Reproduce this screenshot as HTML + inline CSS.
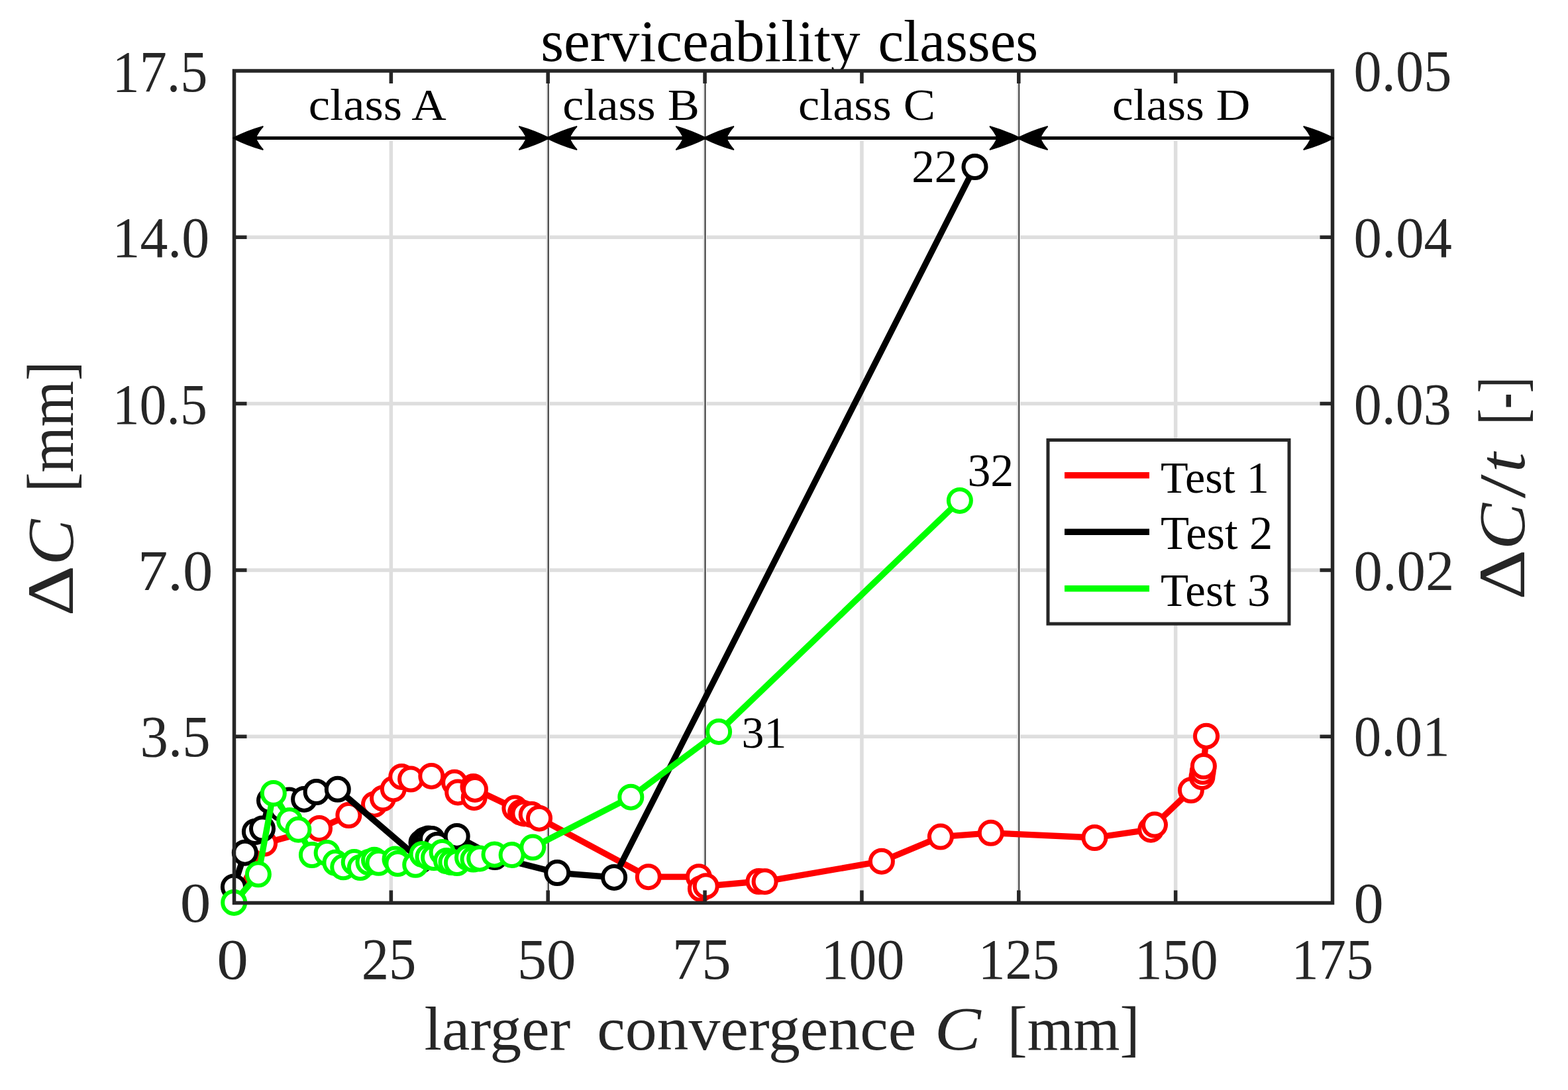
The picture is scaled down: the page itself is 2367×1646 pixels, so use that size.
<!DOCTYPE html>
<html><head><meta charset="utf-8"><title>serviceability classes</title>
<style>html,body{margin:0;padding:0;background:#fff;overflow:hidden}svg{display:block}</style>
</head><body>
<svg width="2367" height="1646" viewBox="0 0 2367 1646" font-family='"Liberation Serif", "DejaVu Serif", serif'>
<rect width="2367" height="1646" fill="#fff"/>
<text transform="translate(816.22,91.90) scale(0.8955,0.8841)" font-size="100" fill="#000" >serviceability</text>
<text transform="translate(1325.42,91.90) scale(0.8707,0.8841)" font-size="100" fill="#000" >classes</text>
<rect x="353.5" y="107.0" width="1658.0" height="1256.5" fill="#fff"/>
<path d="M590.36,107.00V1363.50M827.21,107.00V1363.50M1064.07,107.00V1363.50M1300.93,107.00V1363.50M1537.79,107.00V1363.50M1774.64,107.00V1363.50M353.50,1112.20H2011.50M353.50,860.90H2011.50M353.50,609.60H2011.50M353.50,358.30H2011.50" stroke="#dedede" stroke-width="5.5" fill="none"/>
<rect x="586.36" y="126" width="8" height="87" fill="#fff"/>
<rect x="1296.93" y="126" width="8" height="87" fill="#fff"/>
<rect x="1770.64" y="126" width="8" height="87" fill="#fff"/>
<path d="M827.61,107.00V1363.50" stroke="#000" stroke-width="1.3"/>
<path d="M1064.47,107.00V1363.50" stroke="#000" stroke-width="1.3"/>
<path d="M1538.19,107.00V1363.50" stroke="#000" stroke-width="1.3"/>
<path d="M353.2,1362.9L399.1,1273.6L482.0,1251.0L526.4,1231.1L565.0,1214.7L578.0,1205.5L593.8,1191.4L606.3,1172.9L620.1,1176.5L651.3,1171.9L686.1,1181.8L691.2,1196.4L715.7,1204.2L714.5,1188.0L717.0,1191.9L777.4,1220.6L786.1,1226.7L791.4,1228.4L802.7,1230.1L814.0,1235.7L978.8,1324.2L1054.9,1324.2L1057.9,1342.0L1065.7,1338.2L1145.5,1331.0L1154.6,1331.2L1330.9,1300.7L1419.9,1263.6L1495.8,1257.8L1652.4,1265.0L1737.3,1252.7L1743.0,1245.6L1797.9,1193.3L1814.5,1173.0L1815.7,1165.0L1816.9,1157.0L1821.0,1111.7" stroke="#ff0000" stroke-width="9.3" fill="none" stroke-linejoin="round" stroke-linecap="round"/>
<g fill="#fff" stroke="#ff0000" stroke-width="6.0"><circle cx="399.1" cy="1273.6" r="17.0"/><circle cx="482.0" cy="1251.0" r="17.0"/><circle cx="526.4" cy="1231.1" r="17.0"/><circle cx="565.0" cy="1214.7" r="17.0"/><circle cx="578.0" cy="1205.5" r="17.0"/><circle cx="593.8" cy="1191.4" r="17.0"/><circle cx="606.3" cy="1172.9" r="17.0"/><circle cx="620.1" cy="1176.5" r="17.0"/><circle cx="651.3" cy="1171.9" r="17.0"/><circle cx="686.1" cy="1181.8" r="17.0"/><circle cx="691.2" cy="1196.4" r="17.0"/><circle cx="715.7" cy="1204.2" r="17.0"/><circle cx="714.5" cy="1188.0" r="17.0"/><circle cx="717.0" cy="1191.9" r="17.0"/><circle cx="777.4" cy="1220.6" r="17.0"/><circle cx="786.1" cy="1226.7" r="17.0"/><circle cx="791.4" cy="1228.4" r="17.0"/><circle cx="802.7" cy="1230.1" r="17.0"/><circle cx="814.0" cy="1235.7" r="17.0"/><circle cx="978.8" cy="1324.2" r="17.0"/><circle cx="1054.9" cy="1324.2" r="17.0"/><circle cx="1057.9" cy="1342.0" r="17.0"/><circle cx="1065.7" cy="1338.2" r="17.0"/><circle cx="1145.5" cy="1331.0" r="17.0"/><circle cx="1154.6" cy="1331.2" r="17.0"/><circle cx="1330.9" cy="1300.7" r="17.0"/><circle cx="1419.9" cy="1263.6" r="17.0"/><circle cx="1495.8" cy="1257.8" r="17.0"/><circle cx="1652.4" cy="1265.0" r="17.0"/><circle cx="1737.3" cy="1252.7" r="17.0"/><circle cx="1743.0" cy="1245.6" r="17.0"/><circle cx="1797.9" cy="1193.3" r="17.0"/><circle cx="1814.5" cy="1173.0" r="17.0"/><circle cx="1815.7" cy="1165.0" r="17.0"/><circle cx="1816.9" cy="1157.0" r="17.0"/><circle cx="1821.0" cy="1111.7" r="17.0"/></g>
<path d="M352.9,1339.5L369.8,1287.7L384.9,1256.0L396.0,1251.5L407.0,1209.0L425.0,1221.0L436.6,1208.4L459.1,1206.9L477.6,1196.0L509.8,1191.8L635.0,1299.0L636.5,1272.5L641.0,1268.5L646.5,1266.5L652.0,1267.0L660.0,1276.0L689.7,1262.9L747.0,1294.0L841.2,1318.1L927.1,1324.9L1471.5,252.0" stroke="#000000" stroke-width="9.3" fill="none" stroke-linejoin="round" stroke-linecap="round"/>
<g fill="#fff" stroke="#000000" stroke-width="6.0"><circle cx="352.9" cy="1339.5" r="17.0"/><circle cx="369.8" cy="1287.7" r="17.0"/><circle cx="384.9" cy="1256.0" r="17.0"/><circle cx="396.0" cy="1251.5" r="17.0"/><circle cx="407.0" cy="1209.0" r="17.0"/><circle cx="425.0" cy="1221.0" r="17.0"/><circle cx="436.6" cy="1208.4" r="17.0"/><circle cx="459.1" cy="1206.9" r="17.0"/><circle cx="477.6" cy="1196.0" r="17.0"/><circle cx="509.8" cy="1191.8" r="17.0"/><circle cx="635.0" cy="1299.0" r="17.0"/><circle cx="636.5" cy="1272.5" r="17.0"/><circle cx="641.0" cy="1268.5" r="17.0"/><circle cx="646.5" cy="1266.5" r="17.0"/><circle cx="652.0" cy="1267.0" r="17.0"/><circle cx="660.0" cy="1276.0" r="17.0"/><circle cx="689.7" cy="1262.9" r="17.0"/><circle cx="747.0" cy="1294.0" r="17.0"/><circle cx="841.2" cy="1318.1" r="17.0"/><circle cx="927.1" cy="1324.9" r="17.0"/><circle cx="1471.5" cy="252.0" r="17.0"/></g>
<path d="M353.2,1362.9L389.9,1320.3L412.8,1198.0L437.1,1239.2L450.4,1252.8L470.9,1291.0L493.6,1288.0L506.4,1302.8L518.2,1309.3L534.7,1302.1L543.9,1310.0L556.5,1302.0L565.0,1298.8L571.5,1302.8L596.5,1297.5L600.4,1304.0L627.2,1305.8L637.6,1290.0L646.5,1294.0L655.0,1295.0L667.6,1287.0L674.0,1300.0L681.5,1302.0L689.9,1303.0L706.0,1295.0L714.5,1297.5L724.2,1296.4L746.5,1290.4L772.6,1291.1L804.3,1279.6L952.3,1203.7L1085.1,1104.9L1448.9,755.9" stroke="#00ff00" stroke-width="9.3" fill="none" stroke-linejoin="round" stroke-linecap="round"/>
<g fill="#fff" stroke="#00ff00" stroke-width="6.0"><circle cx="353.2" cy="1362.9" r="17.0"/><circle cx="389.9" cy="1320.3" r="17.0"/><circle cx="412.8" cy="1198.0" r="17.0"/><circle cx="437.1" cy="1239.2" r="17.0"/><circle cx="450.4" cy="1252.8" r="17.0"/><circle cx="470.9" cy="1291.0" r="17.0"/><circle cx="493.6" cy="1288.0" r="17.0"/><circle cx="506.4" cy="1302.8" r="17.0"/><circle cx="518.2" cy="1309.3" r="17.0"/><circle cx="534.7" cy="1302.1" r="17.0"/><circle cx="543.9" cy="1310.0" r="17.0"/><circle cx="556.5" cy="1302.0" r="17.0"/><circle cx="565.0" cy="1298.8" r="17.0"/><circle cx="571.5" cy="1302.8" r="17.0"/><circle cx="596.5" cy="1297.5" r="17.0"/><circle cx="600.4" cy="1304.0" r="17.0"/><circle cx="627.2" cy="1305.8" r="17.0"/><circle cx="637.6" cy="1290.0" r="17.0"/><circle cx="646.5" cy="1294.0" r="17.0"/><circle cx="655.0" cy="1295.0" r="17.0"/><circle cx="667.6" cy="1287.0" r="17.0"/><circle cx="674.0" cy="1300.0" r="17.0"/><circle cx="681.5" cy="1302.0" r="17.0"/><circle cx="689.9" cy="1303.0" r="17.0"/><circle cx="706.0" cy="1295.0" r="17.0"/><circle cx="714.5" cy="1297.5" r="17.0"/><circle cx="724.2" cy="1296.4" r="17.0"/><circle cx="746.5" cy="1290.4" r="17.0"/><circle cx="772.6" cy="1291.1" r="17.0"/><circle cx="804.3" cy="1279.6" r="17.0"/><circle cx="952.3" cy="1203.7" r="17.0"/><circle cx="1085.1" cy="1104.9" r="17.0"/><circle cx="1448.9" cy="755.9" r="17.0"/></g>
<path d="M590.36,1363.50V1344.50M590.36,107.00V126.00M827.21,1363.50V1344.50M827.21,107.00V126.00M1064.07,1363.50V1344.50M1064.07,107.00V126.00M1300.93,1363.50V1344.50M1300.93,107.00V126.00M1537.79,1363.50V1344.50M1537.79,107.00V126.00M1774.64,1363.50V1344.50M1774.64,107.00V126.00M353.50,1112.20H372.50M2011.50,1112.20H1992.50M353.50,860.90H372.50M2011.50,860.90H1992.50M353.50,609.60H372.50M2011.50,609.60H1992.50M353.50,358.30H372.50M2011.50,358.30H1992.50" stroke="#262626" stroke-width="5.5" fill="none"/>
<rect x="353.5" y="107.0" width="1658.0" height="1256.5" fill="none" stroke="#262626" stroke-width="5.5"/>
<path d="M373.5,208.5H807.2M847.2,208.5H1044.1M1084.1,208.5H1517.8M1557.8,208.5H1991.5" stroke="#000" stroke-width="5" fill="none"/>
<path d="M352.1,208.5Q374.1,197.5 396.6,191.2Q389.1,199.5 385.6,208.5Q389.1,217.5 396.6,225.8Q374.1,219.5 352.1,208.5ZM828.6,208.5Q806.6,197.5 784.1,191.2Q791.6,199.5 795.1,208.5Q791.6,217.5 784.1,225.8Q806.6,219.5 828.6,208.5ZM825.8,208.5Q847.8,197.5 870.3,191.2Q862.8,199.5 859.3,208.5Q862.8,217.5 870.3,225.8Q847.8,219.5 825.8,208.5ZM1065.5,208.5Q1043.5,197.5 1021.0,191.2Q1028.5,199.5 1032.0,208.5Q1028.5,217.5 1021.0,225.8Q1043.5,219.5 1065.5,208.5ZM1062.7,208.5Q1084.7,197.5 1107.2,191.2Q1099.7,199.5 1096.2,208.5Q1099.7,217.5 1107.2,225.8Q1084.7,219.5 1062.7,208.5ZM1539.2,208.5Q1517.2,197.5 1494.7,191.2Q1502.2,199.5 1505.7,208.5Q1502.2,217.5 1494.7,225.8Q1517.2,219.5 1539.2,208.5ZM1536.4,208.5Q1558.4,197.5 1580.9,191.2Q1573.4,199.5 1569.9,208.5Q1573.4,217.5 1580.9,225.8Q1558.4,219.5 1536.4,208.5ZM2012.9,208.5Q1990.9,197.5 1968.4,191.2Q1975.9,199.5 1979.4,208.5Q1975.9,217.5 1968.4,225.8Q1990.9,219.5 2012.9,208.5Z" fill="#000" stroke="#000" stroke-width="2.2" stroke-linejoin="round"/>
<text transform="translate(465.79,181.20) scale(0.7270,0.6696)" font-size="100" fill="#000" >class A</text>
<text transform="translate(849.31,181.20) scale(0.7217,0.6696)" font-size="100" fill="#000" >class B</text>
<text transform="translate(1205.11,181.20) scale(0.7231,0.6696)" font-size="100" fill="#000" >class C</text>
<text transform="translate(1678.94,181.20) scale(0.7148,0.6696)" font-size="100" fill="#000" >class D</text>
<text transform="translate(1376.14,274.90) scale(0.6900,0.6938)" font-size="100" fill="#000" >22</text>
<text transform="translate(1119.51,1129.00) scale(0.6775,0.6864)" font-size="100" fill="#000" >31</text>
<text transform="translate(1460.41,733.70) scale(0.6978,0.6877)" font-size="100" fill="#000" >32</text>
<text transform="translate(640.59,1585.00) scale(0.9539,0.9275)" font-size="100" fill="#262626" >larger</text>
<text transform="translate(901.17,1585.00) scale(0.9577,0.9275)" font-size="100" fill="#262626" >convergence</text>
<text transform="translate(1410.71,1585.00) scale(1.0484,0.9275)" font-size="100" fill="#262626" ><tspan font-style='italic'>C</tspan></text>
<text transform="translate(1520.71,1585.00) scale(0.8990,0.9275)" font-size="100" fill="#262626" >[mm]</text>
<text transform="translate(109.90,930.48) rotate(-90) scale(1.1947,0.9924)" font-size="100" fill="#262626">Δ</text>
<text transform="translate(109.90,853.52) rotate(-90) scale(1.0371,0.9924)" font-size="100" fill="#262626"><tspan font-style='italic'>C</tspan></text>
<text transform="translate(109.90,743.03) rotate(-90) scale(0.8894,0.9924)" font-size="100" fill="#262626">[mm]</text>
<text transform="translate(2300.75,905.72) rotate(-90) scale(1.1798,0.9962)" font-size="100" fill="#262626">Δ</text>
<text transform="translate(2300.75,830.04) rotate(-90) scale(1.0484,0.9962)" font-size="100" fill="#262626"><tspan font-style='italic'>C</tspan></text>
<text transform="translate(2300.75,752.50) rotate(-90) scale(1.3036,0.9962)" font-size="100" fill="#262626">/</text>
<text transform="translate(2300.75,713.31) rotate(-90) scale(1.0769,0.9962)" font-size="100" fill="#262626"><tspan font-style='italic'>t</tspan></text>
<text transform="translate(2300.75,641.02) rotate(-90) scale(0.7176,0.9962)" font-size="100" fill="#262626">[-]</text>
<text transform="translate(271.67,1391.62) scale(0.9333,0.8418)" font-size="100" fill="#262626">0</text>
<text transform="translate(211.56,1142.11) scale(0.8483,0.8864)" font-size="100" fill="#262626">3.5</text>
<text transform="translate(207.96,890.55) scale(0.9061,0.8731)" font-size="100" fill="#262626">7.0</text>
<text transform="translate(169.63,639.65) scale(0.8185,0.8750)" font-size="100" fill="#262626">10.5</text>
<text transform="translate(169.45,388.38) scale(0.8389,0.8603)" font-size="100" fill="#262626">14.0</text>
<text transform="translate(169.60,137.52) scale(0.8222,0.8836)" font-size="100" fill="#262626">17.5</text>
<text transform="translate(2043.38,1393.17) scale(0.9048,0.8642)" font-size="100" fill="#262626">0</text>
<text transform="translate(2043.68,1141.38) scale(0.8291,0.8618)" font-size="100" fill="#262626">0.01</text>
<text transform="translate(2043.53,890.55) scale(0.8679,0.8731)" font-size="100" fill="#262626">0.02</text>
<text transform="translate(2043.63,639.64) scale(0.8419,0.8806)" font-size="100" fill="#262626">0.03</text>
<text transform="translate(2043.61,388.35) scale(0.8479,0.8731)" font-size="100" fill="#262626">0.04</text>
<text transform="translate(2043.62,136.63) scale(0.8443,0.8836)" font-size="100" fill="#262626">0.05</text>
<text transform="translate(327.19,1477.54) scale(0.9524,0.8776)" font-size="100" fill="#262626">0</text>
<text transform="translate(545.70,1478.41) scale(0.8261,0.8909)" font-size="100" fill="#262626">25</text>
<text transform="translate(780.67,1477.54) scale(0.8889,0.8776)" font-size="100" fill="#262626">50</text>
<text transform="translate(1014.79,1478.41) scale(0.8876,0.8909)" font-size="100" fill="#262626">75</text>
<text transform="translate(1239.55,1477.57) scale(0.8387,0.8647)" font-size="100" fill="#262626">100</text>
<text transform="translate(1476.65,1478.42) scale(0.8168,0.8776)" font-size="100" fill="#262626">125</text>
<text transform="translate(1712.85,1477.57) scale(0.8394,0.8647)" font-size="100" fill="#262626">150</text>
<text transform="translate(1949.58,1478.42) scale(0.8241,0.8776)" font-size="100" fill="#262626">175</text>
<rect x="1582" y="664.5" width="364" height="277.5" fill="#fff" stroke="#262626" stroke-width="5"/>
<path d="M1607,717.8H1735" stroke="#ff0000" stroke-width="9.4"/>
<path d="M1607,803.3H1735" stroke="#000000" stroke-width="9.4"/>
<path d="M1607,888.8H1735" stroke="#00ff00" stroke-width="9.4"/>
<text transform="translate(1752.04,744.20) scale(0.6823,0.6833)" font-size="100" fill="#000" >Test 1</text>
<text transform="translate(1751.99,829.40) scale(0.7052,0.7092)" font-size="100" fill="#000" >Test 2</text>
<text transform="translate(1752.02,914.50) scale(0.6893,0.7077)" font-size="100" fill="#000" >Test 3</text>
</svg>
</body></html>
